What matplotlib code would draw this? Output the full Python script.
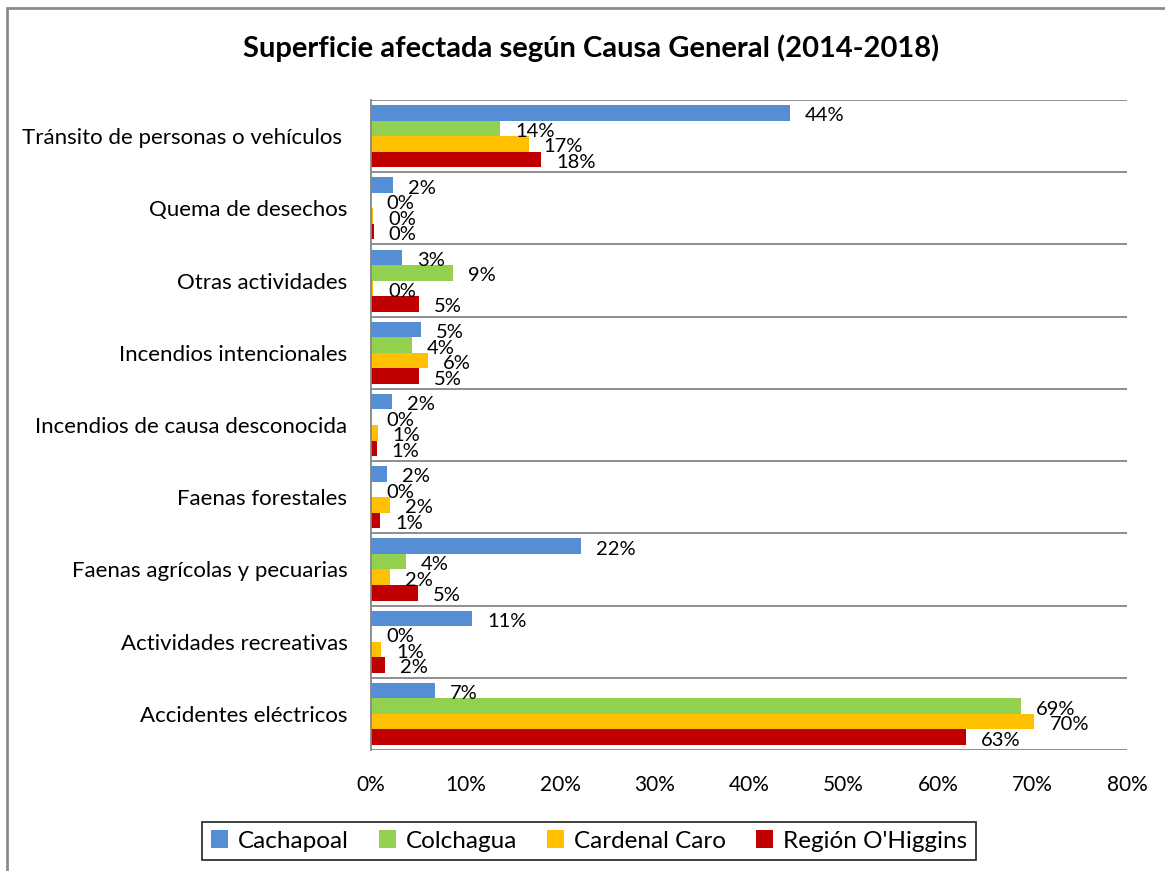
import numpy as np
import matplotlib
matplotlib.use("Agg")
import matplotlib.pyplot as plt
from matplotlib.patches import Rectangle
from matplotlib.ticker import PercentFormatter

plt.rcParams["font.family"] = ["Lato", "DejaVu Sans"]

# categories, top to bottom as shown
categories = [
    "Tránsito de personas o vehículos ",
    "Quema de desechos",
    "Otras actividades",
    "Incendios intencionales",
    "Incendios de causa desconocida",
    "Faenas forestales",
    "Faenas agrícolas y pecuarias",
    "Actividades recreativas",
    "Accidentes eléctricos",
]

series_names = ["Cachapoal", "Colchagua", "Cardenal Caro", "Región O'Higgins"]

# percentages
cachapoal = [44.3, 2.3, 3.3, 5.3, 2.2, 1.7, 22.2, 10.7, 6.8]
colchagua = [13.7, 0.0, 8.7, 4.3, 0.0, 0.0, 3.7, 0.0, 68.8]
cardenal_caro = [16.7, 0.2, 0.2, 6.0, 0.7, 2.0, 2.0, 1.1, 70.2]
region = [18.0, 0.3, 5.1, 5.1, 0.6, 1.0, 5.0, 1.5, 63.0]

colors = ["#558ED5", "#92D050", "#FFC000", "#C00000"]

xticks = [0, 10, 20, 30, 40, 50, 60, 70, 80]

fig = plt.figure(figsize=(11.65, 8.71), dpi=100)
ax = fig.add_axes([371 / 1165, 1 - 750 / 871, (1127 - 371) / 1165, (750 - 100) / 871])

n = len(categories)
base = np.arange(n)[::-1]
h = 0.215
offsets = [1.5 * h, 0.5 * h, -0.5 * h, -1.5 * h]

all_series = [cachapoal, colchagua, cardenal_caro, region]
for vals, name, col, off in zip(all_series, series_names, colors, offsets):
    bars = ax.barh(base + off, vals, height=h, color=col, label=name)
    for rect, v in zip(bars, vals):
        ax.annotate(f"{v:.0f}%", (rect.get_width(), rect.get_y() + rect.get_height() / 2),
                    xytext=(15, -3), textcoords="offset pixels",
                    ha="left", va="center", fontsize=14.5)

ax.set_xlim(0, 80)
ax.set_ylim(-0.5, n - 0.5)
ax.set_xticks(xticks)
ax.xaxis.set_major_formatter(PercentFormatter(decimals=0))
ax.set_yticks(base)
ax.set_yticklabels(categories)
ax.set_yticks(np.arange(-0.5, n, 1.0), minor=True)
ax.tick_params(axis="y", which="both", length=0, pad=17, labelsize=16)
ax.tick_params(axis="x", length=0, pad=18, labelsize=15)
ax.grid(axis="y", which="minor", color="#868686", linewidth=1.3)
ax.set_axisbelow(True)
for s in ["top", "right", "bottom"]:
    ax.spines[s].set_visible(False)
ax.spines["left"].set_color("#868686")
ax.spines["left"].set_linewidth(1.3)

fig.text(591 / 1165, 1 - 48 / 871, "Superficie afectada según Causa General (2014-2018)",
         ha="center", va="center", fontsize=21, fontweight="bold")

leg = fig.legend(loc="center", bbox_to_anchor=(589 / 1165, 1 - 841 / 871), ncol=4,
                 fontsize=17.5, frameon=True, fancybox=False, edgecolor="black",
                 handlelength=0.7, handleheight=0.7, handletextpad=0.4, columnspacing=1.25,
                 borderpad=0.35)
leg.get_frame().set_linewidth(1.3)

fig.patches.append(Rectangle((6.5 / 1165, -0.1), 1.2, 1 - 8.5 / 871 + 0.1,
                             transform=fig.transFigure, fill=False,
                             edgecolor="#8c8c8c", linewidth=2))

fig.savefig("out.png", dpi=100)
